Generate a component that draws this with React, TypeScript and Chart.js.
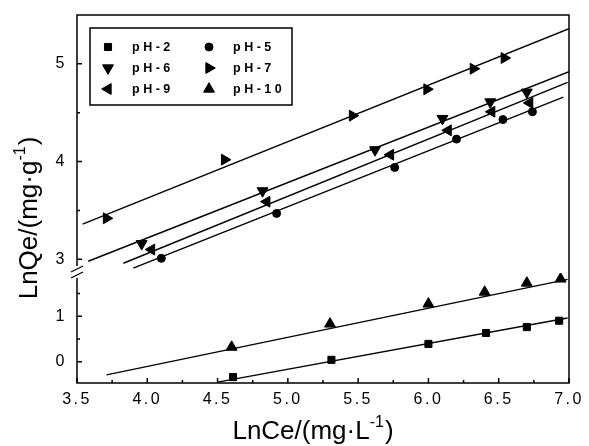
import React, { useEffect, useRef } from 'react';
import { Chart, registerables } from 'chart.js';
import { drawPoint } from 'chart.js/helpers';

Chart.register(...registerables);

// ---------- data ----------
const X_RANGE = [3.5, 7.0];
const Y_UPPER_RANGE = [2.86, 5.5];
const Y_LOWER_RANGE = [-0.47, 1.95];

const X_MAJOR_TICKS = [3.5, 4.0, 4.5, 5.0, 5.5, 6.0, 6.5, 7.0];
const X_MINOR_TICKS = [3.75, 4.25, 4.75, 5.25, 5.75, 6.25, 6.75];
const Y_UPPER_TICKS = [3, 4, 5];
const Y_UPPER_MINOR = [3.5, 4.5];
const Y_LOWER_TICKS = [0, 1];
const Y_LOWER_MINOR = [0.5, 1.5];

const SERIES_LABELS = ['pH-2', 'pH-5', 'pH-6', 'pH-7', 'pH-9', 'pH-10'];

const PH2_X = [4.61, 5.31, 6.0, 6.41, 6.7, 6.93];
const PH2_Y = [-0.34, 0.04, 0.39, 0.63, 0.76, 0.9];
const PH5_X = [4.1, 4.92, 5.76, 6.2, 6.53, 6.74];
const PH5_Y = [3.01, 3.47, 3.94, 4.23, 4.43, 4.51];
const PH6_X = [3.96, 4.82, 5.62, 6.1, 6.44, 6.7];
const PH6_Y = [3.16, 3.7, 4.12, 4.44, 4.61, 4.71];
const PH7_X = [3.71, 4.55, 5.46, 5.99, 6.32, 6.54];
const PH7_Y = [3.42, 4.02, 4.47, 4.74, 4.95, 5.06];
const PH9_X = [4.03, 4.85, 5.73, 6.14, 6.45, 6.72];
const PH9_Y = [3.1, 3.59, 4.07, 4.32, 4.51, 4.6];
const PH10_X = [4.6, 5.3, 6.0, 6.4, 6.7, 6.94];
const PH10_Y = [0.32, 0.83, 1.27, 1.53, 1.73, 1.82];

// fitted lines (endpoints)
const FIT2_X = [4.5, 6.99];
const FIT2_Y = [-0.45, 0.96];
const FIT5_X = [3.9, 6.96];
const FIT5_Y = [2.91, 4.66];
const FIT6_X = [3.58, 7.0];
const FIT6_Y = [2.98, 4.92];
const FIT7_X = [3.54, 7.0];
const FIT7_Y = [3.36, 5.36];
const FIT9_X = [3.83, 6.99];
const FIT9_Y = [2.96, 4.81];
const FIT10_X = [3.71, 6.99];
const FIT10_Y = [-0.29, 1.81];

const X_TITLE = 'LnCe/(mg·L';
const Y_TITLE = 'LnQe/(mg·g';
const TITLE_SUP = '-1';

// ---------- styles ----------
const FONT = '"Liberation Sans", Arial, sans-serif';
const SERIES = [
  { xs: PH2_X, ys: PH2_Y, fx: FIT2_X, fy: FIT2_Y, axis: 'yLow', style: 'rect', rot: 0, r: 5 },
  { xs: PH5_X, ys: PH5_Y, fx: FIT5_X, fy: FIT5_Y, axis: 'yUp', style: 'circle', rot: 0, r: 4 },
  { xs: PH6_X, ys: PH6_Y, fx: FIT6_X, fy: FIT6_Y, axis: 'yUp', style: 'triangle', rot: 180, r: 6.3 },
  { xs: PH7_X, ys: PH7_Y, fx: FIT7_X, fy: FIT7_Y, axis: 'yUp', style: 'triangle', rot: 90, r: 6.3 },
  { xs: PH9_X, ys: PH9_Y, fx: FIT9_X, fy: FIT9_Y, axis: 'yUp', style: 'triangle', rot: 270, r: 6.3 },
  { xs: PH10_X, ys: PH10_Y, fx: FIT10_X, fy: FIT10_Y, axis: 'yLow', style: 'triangle', rot: 0, r: 6.3 },
];

function toPts(xs: number[], ys: number[]) {
  return xs.map((x, i) => ({ x, y: ys[i] }));
}

function drawSupText(ctx: CanvasRenderingContext2D, main: string, sup: string, tail: string, cx: number, baseY: number, size: number) {
  const supSize = Math.round(size * 0.6);
  ctx.font = `${size}px ${FONT}`;
  const w1 = ctx.measureText(main).width;
  const w3 = ctx.measureText(tail).width;
  ctx.font = `${supSize}px ${FONT}`;
  const w2 = ctx.measureText(sup).width;
  const total = w1 + w2 + w3 + 1;
  let x = cx - total / 2;
  ctx.textAlign = 'left';
  ctx.textBaseline = 'alphabetic';
  ctx.font = `${size}px ${FONT}`;
  ctx.fillText(main, x, baseY);
  x += w1;
  ctx.font = `${supSize}px ${FONT}`;
  ctx.fillText(sup, x, baseY - size * 0.45);
  x += w2 + 1;
  ctx.font = `${size}px ${FONT}`;
  ctx.fillText(tail, x, baseY);
}

const decorPlugin = {
  id: 'decor',
  beforeDraw(chart: any) {
    chart.ctx.letterSpacing = '2.5px';
  },
  beforeDatasetsDraw(chart: any) {
    chart.ctx.letterSpacing = '0px';
  },
  afterDraw(chart: any) {
    const ctx: CanvasRenderingContext2D = chart.ctx;
    const a = chart.chartArea;
    const xs = chart.scales.x;
    const yu = chart.scales.yUp;
    const yl = chart.scales.yLow;
    const yb = yl.top;
    ctx.save();
    (ctx as any).letterSpacing = '0px';
    ctx.strokeStyle = '#000';
    ctx.fillStyle = '#000';
    ctx.lineWidth = 1.5;
    ctx.lineCap = 'butt';

    // frame with break on left
    ctx.beginPath();
    ctx.moveTo(a.left, yb - 7);
    ctx.lineTo(a.left, a.top);
    ctx.lineTo(a.right, a.top);
    ctx.lineTo(a.right, a.bottom);
    ctx.lineTo(a.left, a.bottom);
    ctx.lineTo(a.left, yb + 5);
    ctx.stroke();
    // break marks
    ctx.lineWidth = 1.3;
    ctx.beginPath();
    ctx.moveTo(a.left - 6, yb - 1);
    ctx.lineTo(a.left + 6, yb - 7);
    ctx.moveTo(a.left - 6, yb + 5);
    ctx.lineTo(a.left + 6, yb - 1);
    ctx.stroke();

    // inward ticks
    ctx.lineWidth = 1.5;
    ctx.beginPath();
    X_MAJOR_TICKS.forEach((v) => {
      const p = xs.getPixelForValue(v);
      ctx.moveTo(p, a.bottom);
      ctx.lineTo(p, a.bottom - 5);
    });
    X_MINOR_TICKS.forEach((v) => {
      const p = xs.getPixelForValue(v);
      ctx.moveTo(p, a.bottom);
      ctx.lineTo(p, a.bottom - 3);
    });
    Y_UPPER_TICKS.forEach((v) => {
      const p = yu.getPixelForValue(v);
      ctx.moveTo(a.left, p);
      ctx.lineTo(a.left + 5, p);
    });
    Y_UPPER_MINOR.forEach((v) => {
      const p = yu.getPixelForValue(v);
      ctx.moveTo(a.left, p);
      ctx.lineTo(a.left + 3, p);
    });
    Y_LOWER_TICKS.forEach((v) => {
      const p = yl.getPixelForValue(v);
      ctx.moveTo(a.left, p);
      ctx.lineTo(a.left + 5, p);
    });
    Y_LOWER_MINOR.forEach((v) => {
      const p = yl.getPixelForValue(v);
      ctx.moveTo(a.left, p);
      ctx.lineTo(a.left + 3, p);
    });
    ctx.stroke();

    // legend box
    const bx = a.left + 13;
    const by = a.top + 13;
    const bw = 202;
    const bh = 77;
    ctx.fillStyle = '#fff';
    ctx.fillRect(bx, by, bw, bh);
    ctx.fillStyle = '#000';
    ctx.lineWidth = 1.5;
    ctx.strokeRect(bx, by, bw, bh);
    const rowY = [by + 19, by + 40, by + 61];
    const colX = [bx + 18, bx + 119];
    const textX = [bx + 42, bx + 143];
    ctx.font = `bold 12.5px ${FONT}`;
    (ctx as any).letterSpacing = '3.5px';
    ctx.textAlign = 'left';
    ctx.textBaseline = 'middle';
    SERIES_LABELS.forEach((lab, i) => {
      const s = SERIES[i];
      const r = Math.floor(i / 2);
      const c = i % 2;
      ctx.fillStyle = '#000';
      ctx.strokeStyle = '#000';
      ctx.lineWidth = 1;
      drawPoint(ctx, { pointStyle: s.style, rotation: s.rot, radius: s.r, borderWidth: 1 } as any, colX[c], rowY[r]);
      ctx.fillText(lab, textX[c], rowY[r] + 1);
    });
    (ctx as any).letterSpacing = '0px';

    // axis titles
    ctx.fillStyle = '#000';
    drawSupText(ctx, X_TITLE, TITLE_SUP, ')', 313, 439, 26);
    ctx.save();
    ctx.translate(37, 218);
    ctx.rotate(-Math.PI / 2);
    drawSupText(ctx, Y_TITLE, TITLE_SUP, ')', 0, 0, 26);
    ctx.restore();

    ctx.restore();
  },
};

export default function App() {
  const ref = useRef<HTMLCanvasElement | null>(null);
  useEffect(() => {
    document.body.style.margin = '0';
    const canvas = ref.current;
    if (!canvas) return;

    const datasets: any[] = [];
    SERIES.forEach((s, i) => {
      datasets.push({
        type: 'line',
        label: SERIES_LABELS[i] + ' fit',
        data: toPts(s.fx, s.fy),
        yAxisID: s.axis,
        borderColor: '#000',
        borderWidth: 1.4,
        pointRadius: 0,
        fill: false,
        tension: 0,
      });
    });
    SERIES.forEach((s, i) => {
      datasets.push({
        type: 'scatter',
        label: SERIES_LABELS[i],
        data: toPts(s.xs, s.ys),
        yAxisID: s.axis,
        showLine: false,
        pointStyle: s.style,
        rotation: s.rot,
        pointRadius: s.r,
        pointBorderWidth: 1,
        pointBackgroundColor: '#000',
        pointBorderColor: '#000',
        borderColor: '#000',
        backgroundColor: '#000',
      });
    });

    const tickFont = { family: FONT, size: 16 };
    const fitY = (s: any) => {
      s.width = 77;
      s.paddingTop = 0;
      s.paddingBottom = 0;
    };
    const chart = new Chart(canvas, {
      type: 'scatter',
      data: { datasets },
      options: {
        responsive: false,
        animation: false,
        devicePixelRatio: 1,
        layout: { padding: { top: 15, right: 20, left: 0, bottom: 0 } },
        plugins: { legend: { display: false }, tooltip: { enabled: false } },
        scales: {
          x: {
            type: 'linear',
            position: 'bottom',
            min: X_RANGE[0],
            max: X_RANGE[1],
            grid: { display: false, drawTicks: false },
            border: { display: false },
            ticks: {
              padding: 7,
              color: '#000',
              font: tickFont,
              autoSkip: false,
              maxRotation: 0,
              callback: (v: any) => Number(v).toFixed(1),
            },
            afterBuildTicks: (s: any) => {
              s.ticks = X_MAJOR_TICKS.map((v) => ({ value: v }));
            },
            afterFit: (s: any) => {
              s.height = 63;
              s.paddingLeft = 0;
              s.paddingRight = 0;
            },
          },
          yLow: {
            type: 'linear',
            position: 'left',
            stack: 'ystack',
            stackWeight: 110,
            min: Y_LOWER_RANGE[0],
            max: Y_LOWER_RANGE[1],
            grid: { display: false, drawTicks: false },
            border: { display: false },
            ticks: { padding: 10, color: '#000', font: tickFont, autoSkip: false },
            afterBuildTicks: (s: any) => {
              s.ticks = Y_LOWER_TICKS.map((v) => ({ value: v }));
            },
            afterFit: fitY,
          },
          yUp: {
            type: 'linear',
            position: 'left',
            stack: 'ystack',
            stackWeight: 258,
            min: Y_UPPER_RANGE[0],
            max: Y_UPPER_RANGE[1],
            grid: { display: false, drawTicks: false },
            border: { display: false },
            ticks: { padding: 10, color: '#000', font: tickFont, autoSkip: false },
            afterBuildTicks: (s: any) => {
              s.ticks = Y_UPPER_TICKS.map((v) => ({ value: v }));
            },
            afterFit: fitY,
          },
        },
      } as any,
      plugins: [decorPlugin],
    });
    return () => chart.destroy();
  }, []);

  return (
    <div style={{ width: 589, height: 446, background: '#fff' }}>
      <canvas ref={ref} width={589} height={446} style={{ display: 'block' }} />
    </div>
  );
}
